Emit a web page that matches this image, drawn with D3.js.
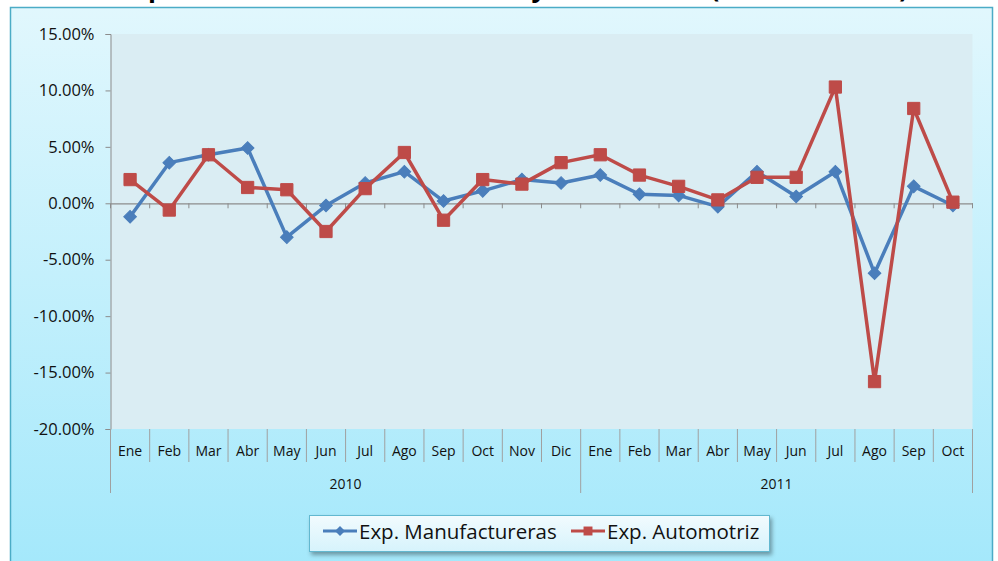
<!DOCTYPE html>
<html>
<head>
<meta charset="utf-8">
<script src="https://cdn.jsdelivr.net/npm/d3@7"></script>
<style>
  body { margin: 0; background: #fff; }
  svg text { font-family: "Open Sans", Lato, sans-serif; }
</style>
</head>
<body>
<div id="chart"></div>
<script>
// data
const months = ['Ene', 'Feb', 'Mar', 'Abr', 'May', 'Jun', 'Jul', 'Ago', 'Sep', 'Oct', 'Nov', 'Dic',
  'Ene', 'Feb', 'Mar', 'Abr', 'May', 'Jun', 'Jul', 'Ago', 'Sep', 'Oct']
const years = ['2010', '2011']
const yearCounts = [12, 10]
const manufactureras = [-1.2, 3.6, 4.3, 4.9, -3.0, -0.2, 1.8, 2.8, 0.2, 1.1, 2.1, 1.8,
  2.5, 0.8, 0.7, -0.3, 2.8, 0.6, 2.8, -6.2, 1.5, -0.2]
const automotriz = [2.1, -0.6, 4.3, 1.4, 1.2, -2.5, 1.3, 4.5, -1.5, 2.1, 1.7, 3.6,
  4.3, 2.5, 1.5, 0.3, 2.3, 2.3, 10.3, -15.8, 8.4, 0.1]
const yTicks = [-20, -15, -10, -5, 0, 5, 10, 15]
const seriesNames = ['Exp. Manufactureras', 'Exp. Automotriz']
const title = 'Exportaciones Manufactureras y Automotriz (Tasa Mensual)'

const W = 998, H = 561
const plot = { left: 110.5, right: 972.5, top: 34, bottom: 429 }
const BLUE = '#4a7ebb', RED = '#be4b48'

const svg = d3.select('#chart').append('svg')
  .attr('width', W)
  .attr('height', H)

const defs = svg.append('defs')
const bg = defs.append('linearGradient').attr('id', 'bg')
  .attr('x1', 0).attr('y1', 0).attr('x2', 0).attr('y2', 1)
bg.append('stop').attr('offset', '0%').attr('stop-color', '#e1f7fd')
bg.append('stop').attr('offset', '100%').attr('stop-color', '#a3e8fb')
const lg = defs.append('linearGradient').attr('id', 'lg')
  .attr('x1', 0).attr('y1', 0).attr('x2', 0).attr('y2', 1)
lg.append('stop').attr('offset', '0%').attr('stop-color', '#f2fbfe')
lg.append('stop').attr('offset', '100%').attr('stop-color', '#d6f3fc')
const sh = defs.append('filter').attr('id', 'shadow')
  .attr('x', '-5%').attr('y', '-20%').attr('width', '115%').attr('height', '160%')
sh.append('feDropShadow').attr('dx', 2).attr('dy', 3).attr('stdDeviation', 2)
  .attr('flood-color', '#000').attr('flood-opacity', 0.35)

// title (cut off at the top of the picture, as in the source)
svg.append('text')
  .attr('x', 118)
  .attr('y', -3)
  .attr('textLength', 790)
  .attr('font-size', 26)
  .attr('font-weight', 'bold')
  .attr('fill', '#000')
  .text(title)

// outer chart box
svg.append('rect')
  .attr('x', 10.5).attr('y', 7.5)
  .attr('width', 982).attr('height', 570)
  .attr('fill', 'url(#bg)')
  .attr('stroke', '#4bacc6')
  .attr('stroke-width', 1.5)

// plot area
svg.append('rect')
  .attr('x', plot.left).attr('y', plot.top)
  .attr('width', plot.right - plot.left).attr('height', plot.bottom - plot.top)
  .attr('fill', '#daedf3')

// scales
const x = d3.scaleBand()
  .domain(d3.range(months.length))
  .range([plot.left, plot.right])
const y = d3.scaleLinear()
  .domain([-20, 15])
  .range([plot.bottom, plot.top])
const cx = i => x(i) + x.bandwidth() / 2

// y axis
const yAxis = d3.axisLeft(y)
  .tickValues(yTicks)
  .tickSize(5)
  .tickPadding(11)
  .tickFormat(d => d.toFixed(2) + '%')
const gy = svg.append('g')
  .attr('class', 'yAxis')
  .attr('transform', 'translate(' + plot.left + ',0)')
  .call(yAxis)
gy.select('.domain').attr('stroke', '#8c8c8c')
gy.selectAll('.tick line').attr('stroke', '#8c8c8c')
gy.selectAll('.tick text').attr('font-size', 16.5).attr('fill', '#111')

// zero line with category ticks
const xAxis = d3.axisBottom(x)
  .tickValues([])
  .tickSizeOuter(0)
const gx = svg.append('g')
  .attr('class', 'xAxis')
  .attr('transform', 'translate(0,' + y(0) + ')')
  .call(xAxis)
gx.select('.domain').attr('stroke', '#8c8c8c').attr('stroke-width', 1.2)
gx.selectAll('.cat-tick')
  .data(d3.range(months.length + 1))
  .enter().append('line')
  .attr('x1', i => i < months.length ? x(i) : plot.right)
  .attr('x2', i => i < months.length ? x(i) : plot.right)
  .attr('y1', 0).attr('y2', 5)
  .attr('stroke', '#8c8c8c')

// category labels at the bottom
const cats = svg.append('g').attr('class', 'cats')
cats.selectAll('line.sep')
  .data(d3.range(months.length + 1))
  .enter().append('line')
  .attr('class', 'sep')
  .attr('x1', i => i < months.length ? x(i) : plot.right)
  .attr('x2', i => i < months.length ? x(i) : plot.right)
  .attr('y1', plot.bottom)
  .attr('y2', i => (i === 0 || i === 12 || i === months.length) ? 493 : 462)
  .attr('stroke', '#a0a0a0')
cats.selectAll('text.month')
  .data(months)
  .enter().append('text')
  .attr('class', 'month')
  .attr('x', (d, i) => cx(i))
  .attr('y', 456)
  .attr('text-anchor', 'middle')
  .attr('font-size', 14)
  .attr('fill', '#111')
  .text(d => d)
let start = 0
years.forEach((yr, k) => {
  const end = start + yearCounts[k]
  cats.append('text')
    .attr('x', (x(start) + (end < months.length ? x(end) : plot.right)) / 2)
    .attr('y', 489)
    .attr('text-anchor', 'middle')
    .attr('font-size', 14)
    .attr('fill', '#111')
    .text(yr)
  start = end
})

// lines
const line = d3.line()
  .x((d, i) => cx(i))
  .y(d => y(d))
const series = [
  { name: seriesNames[0], values: manufactureras, color: BLUE, symbol: 'diamond' },
  { name: seriesNames[1], values: automotriz, color: RED, symbol: 'square' }
]
const diamond = d3.symbol(d3.symbolSquare, 80)
const square = d3.symbol(d3.symbolSquare, 150)

series.forEach(s => {
  const g = svg.append('g').attr('class', 'series')
  g.append('path')
    .datum(s.values)
    .attr('fill', 'none')
    .attr('stroke', s.color)
    .attr('stroke-width', 3.5)
    .attr('stroke-linejoin', 'round')
    .attr('d', line)
  g.selectAll('path.mark')
    .data(s.values)
    .enter().append('path')
    .attr('class', 'mark')
    .attr('d', s.symbol === 'diamond' ? diamond : square)
    .attr('transform', (d, i) => 'translate(' + cx(i) + ',' + y(d) + ')' +
      (s.symbol === 'diamond' ? ' rotate(45)' : ''))
    .attr('fill', s.color)
    .attr('stroke', s.color)
    .attr('stroke-width', 1)
})

// legend
const leg = svg.append('g').attr('class', 'legend')
leg.append('rect')
  .attr('x', 309.5).attr('y', 515.5)
  .attr('width', 460).attr('height', 36)
  .attr('fill', 'url(#lg)')
  .attr('stroke', '#62b8d0')
  .attr('filter', 'url(#shadow)')
const legItems = [
  { x0: 323, x1: 357, tx: 359 },
  { x0: 571, x1: 605, tx: 607 }
]
series.forEach((s, k) => {
  const it = legItems[k]
  leg.append('line')
    .attr('x1', it.x0).attr('x2', it.x1)
    .attr('y1', 531).attr('y2', 531)
    .attr('stroke', s.color).attr('stroke-width', 3)
  leg.append('path')
    .attr('d', d3.symbol(d3.symbolSquare, s.symbol === 'diamond' ? 50 : 80)())
    .attr('transform', 'translate(' + (it.x0 + it.x1) / 2 + ',531)' +
      (s.symbol === 'diamond' ? ' rotate(45)' : ''))
    .attr('fill', s.color)
  leg.append('text')
    .attr('x', it.tx)
    .attr('y', 538.5)
    .attr('font-size', 20.5)
    .attr('fill', '#111')
    .text(s.name)
})
</script>
</body>
</html>
